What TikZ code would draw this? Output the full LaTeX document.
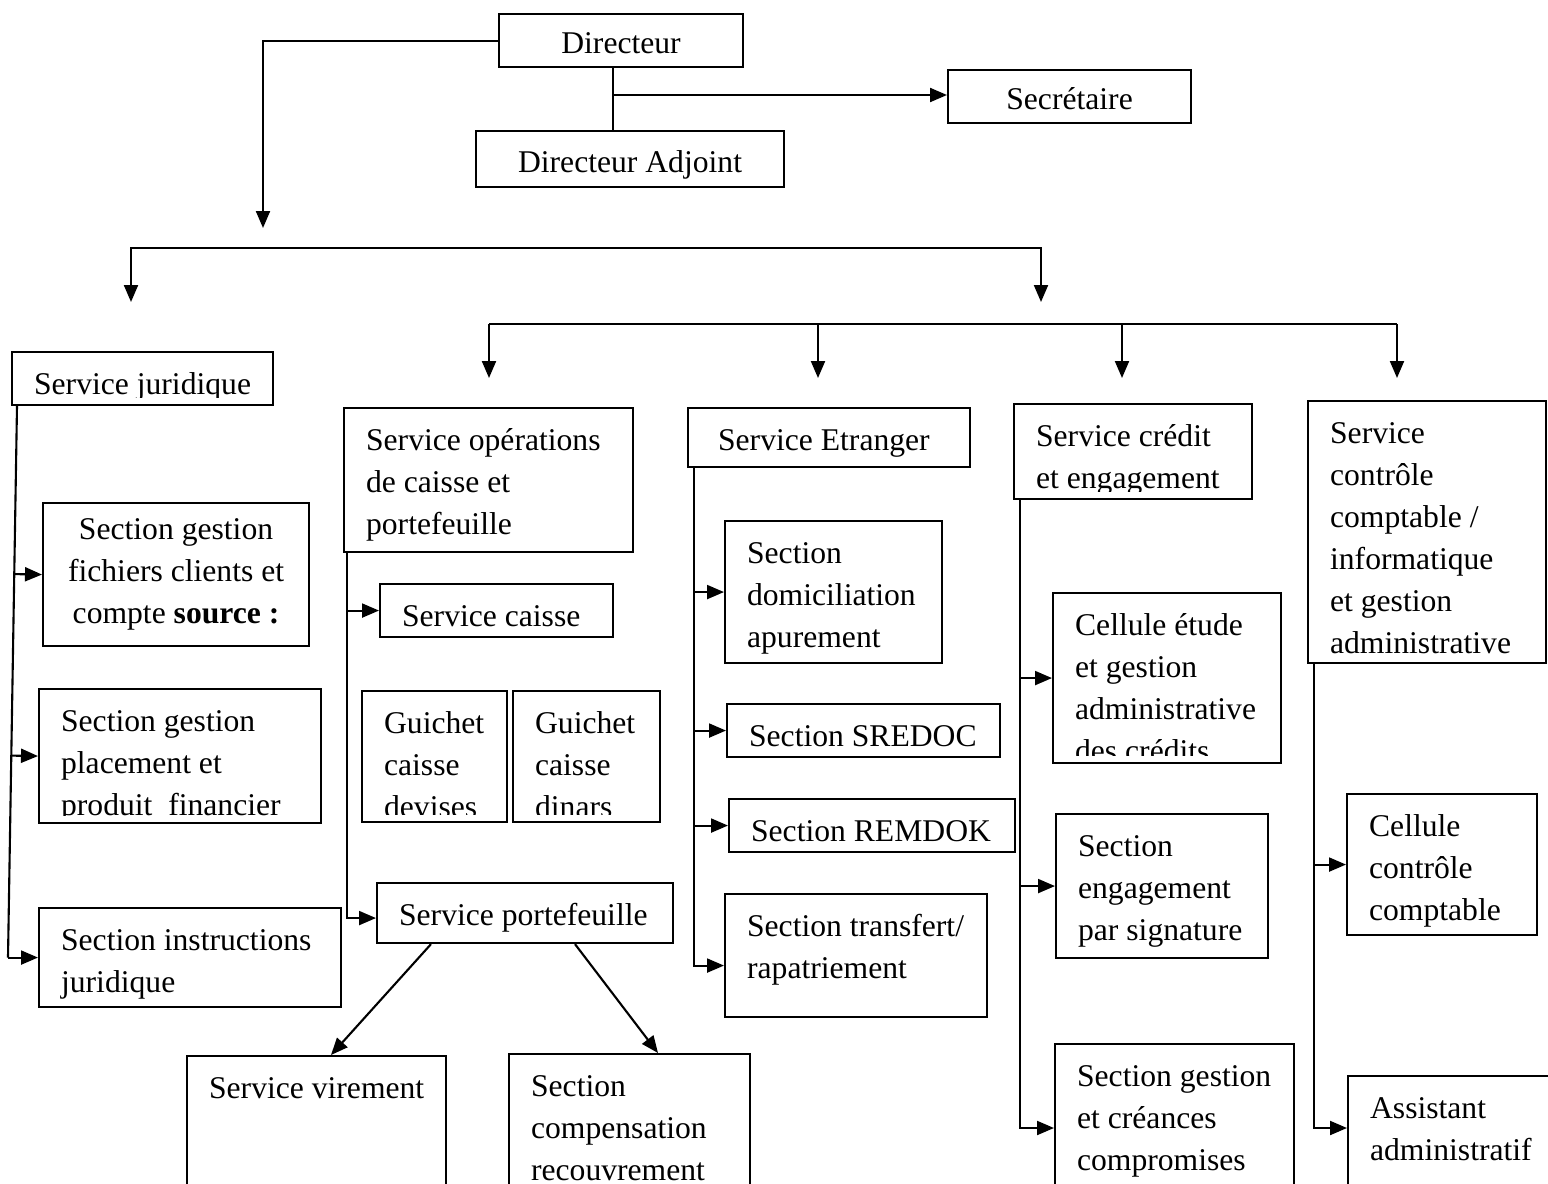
\documentclass[tikz,border=0pt]{standalone}
\usepackage{fontspec}
\setmainfont{Liberation Serif}
\usetikzlibrary{arrows.meta, calc}

\newlength\unitpx
\setlength\unitpx{0.02cm}

\tikzset{
  orgfont/.style={font=\fontsize{18}{24}\selectfont},
  orgbox/.style={draw, line width=1.2pt, rectangle, anchor=north west, inner sep=0pt, orgfont},
  lefttext/.style={path picture={
      \clip (path picture bounding box.north west) rectangle ($(path picture bounding box.south east)+(0,-8)$);
      \node[orgfont, draw=none, minimum width=0pt, minimum height=0pt, anchor=north west, align=left, inner sep=0pt]
        at ($(path picture bounding box.north west)+(21,0)$) {\rule{0pt}{41\unitpx}#1};}},
  link/.style={line width=1.2pt},
  arr/.style={line width=1.2pt, -{Triangle[length=0.34cm, width=0.28cm]}},
  arrs/.style={line width=1.2pt, {Triangle[length=0.34cm, width=0.28cm]}-{Triangle[length=0.34cm, width=0.28cm]}},
}

\begin{document}
\begin{tikzpicture}[x=0.02cm, y=-0.02cm]
\useasboundingbox (0,0) rectangle (1548,1183);

% direction
\node[orgbox, minimum width=244\unitpx, minimum height=53\unitpx, text height=15pt, text depth=0pt] (dir) at (498,13) {Directeur};
\node[orgbox, minimum width=243\unitpx, minimum height=53\unitpx, text height=15pt, text depth=0pt] (sec) at (947,69) {Secrétaire};
\node[orgbox, minimum width=308\unitpx, minimum height=56\unitpx, text height=15pt, text depth=0pt] (adj) at (475,130) {Directeur Adjoint};

\coordinate (dtip) at (263,228);
\coordinate (djn) at (613,95);
\draw[arr] (dir.west) -| (dtip);
\draw[link] (dir.south -| djn) -- (adj.north -| djn);
\draw[arr] (djn) -- (sec.west |- djn);

% bars
\coordinate (jtip) at (131,302);
\coordinate (stip) at (1041,302);
\draw[arrs] (jtip) -- ++(0,-54) -| (stip);

\coordinate (bar) at (0,324);
\foreach \n/\x in {a/489, b/818, c/1122, d/1397}
  \coordinate (tip\n) at (\x,378);
\draw[link] (tipa |- bar) -- (tipd |- bar);
\foreach \n in {a,b,c,d}
  \draw[arr] (tip\n |- bar) -- (tip\n);

% service juridique
\node[orgbox, minimum width=261\unitpx, minimum height=53\unitpx, lefttext={Service juridique}] (jur) at (11,351) {};
\node[orgbox, minimum width=266\unitpx, minimum height=143\unitpx, align=center] (fich) at (42,502) {Section gestion\\fichiers clients et\\compte \textbf{source :}};
\node[orgbox, minimum width=282\unitpx, minimum height=134\unitpx, lefttext={Section gestion\\placement et\\produit~ financier}] (plac) at (38,688) {};
\node[orgbox, minimum width=302\unitpx, minimum height=99\unitpx, lefttext={Section instructions\\juridique}] (instr) at (38,907) {};

% service operations
\node[orgbox, minimum width=289\unitpx, minimum height=144\unitpx, lefttext={Service opérations\\de caisse et\\portefeuille}] (ops) at (343,407) {};
\node[orgbox, minimum width=233\unitpx, minimum height=53\unitpx, lefttext={Service caisse}] (caisse) at (379,583) {};
\node[orgbox, minimum width=145\unitpx, minimum height=131\unitpx, lefttext={Guichet\\caisse\\devises}] (gdev) at (361,690) {};
\node[orgbox, minimum width=147\unitpx, minimum height=131\unitpx, lefttext={Guichet\\caisse\\dinars}] (gdin) at (512,690) {};
\node[orgbox, minimum width=296\unitpx, minimum height=60\unitpx, lefttext={Service portefeuille}] (port) at (376,882) {};
\node[orgbox, minimum width=259\unitpx, minimum height=160\unitpx, lefttext={Service virement}] (vir) at (186,1055) {};
\node[orgbox, minimum width=241\unitpx, minimum height=160\unitpx, lefttext={Section\\compensation\\recouvrement}] (comp) at (508,1053) {};

% service etranger
\node[orgbox, minimum width=282\unitpx, minimum height=59\unitpx, lefttext={\hspace*{8\unitpx}Service Etranger}] (etr) at (687,407) {};
\node[orgbox, minimum width=217\unitpx, minimum height=142\unitpx, lefttext={Section\\domiciliation\\apurement}] (dom) at (724,520) {};
\node[orgbox, minimum width=273\unitpx, minimum height=53\unitpx, lefttext={Section SREDOC}] (sred) at (726,703) {};
\node[orgbox, minimum width=286\unitpx, minimum height=53\unitpx, lefttext={Section REMDOK}] (remd) at (728,798) {};
\node[orgbox, minimum width=262\unitpx, minimum height=123\unitpx, lefttext={Section transfert/\\rapatriement}] (trans) at (724,893) {};

% service credit
\node[orgbox, minimum width=238\unitpx, minimum height=95\unitpx, lefttext={Service crédit\\et engagement}] (cred) at (1013,403) {};
\node[orgbox, minimum width=228\unitpx, minimum height=170\unitpx, lefttext={Cellule étude\\et gestion\\administrative\\des crédits}] (cell) at (1052,592) {};
\node[orgbox, minimum width=212\unitpx, minimum height=144\unitpx, lefttext={Section\\engagement\\par signature}] (engs) at (1055,813) {};
\node[orgbox, minimum width=239\unitpx, minimum height=160\unitpx, lefttext={Section gestion\\et créances\\compromises}] (cre) at (1054,1043) {};

% service controle
\node[orgbox, minimum width=238\unitpx, minimum height=262\unitpx, lefttext={Service\\contrôle\\comptable /\\informatique\\et gestion\\administrative}] (ctrl) at (1307,400) {};
\node[orgbox, minimum width=190\unitpx, minimum height=141\unitpx, lefttext={Cellule\\contrôle\\comptable}] (ccpt) at (1346,793) {};
\node[orgbox, minimum width=220\unitpx, minimum height=160\unitpx, lefttext={Assistant\\administratif}] (asst) at (1347,1075) {};

% liens juridique
\coordinate (jt) at ($(jur.south west)+(6,0)$);
\coordinate (jb) at ($(instr.west)+(-30,0)$);
\draw[link] (jt) -- (jb);
\draw[arr] (jb) -- (instr.west);
\foreach \b in {fich, plac}
  \draw[arr] ($(jt)!(\b.west)!(jb)$) -- (\b.west);

% liens operations
\coordinate (ot) at ($(ops.south west)+(4,0)$);
\draw[arr] (ot) |- ($(port.west)+(0,5)$);
\draw[arr] (ot |- caisse.west) -- (caisse.west);
\draw[arr] ($(port.south west)+(55,0)$) -- ($(vir.north west)+(145,0)$);
\draw[arr] ($(port.south west)+(199,0)$) -- ($(comp.north west)+(150,0)$);

% liens etranger
\coordinate (et) at ($(etr.south west)+(7,0)$);
\draw[arr] (et) |- ($(trans.west)+(0,10)$);
\foreach \b in {dom, sred, remd}
  \draw[arr] (et |- \b.west) -- (\b.west);

% liens credit
\coordinate (ct) at ($(cred.south west)+(7,0)$);
\draw[arr] (ct) |- ($(cre.north west)+(0,85)$);
\foreach \b in {cell, engs}
  \draw[arr] (ct |- \b.west) -- (\b.west);

% liens controle
\coordinate (kt) at ($(ctrl.south west)+(7,0)$);
\draw[arr] (kt) |- ($(asst.north west)+(0,53)$);
\draw[arr] (kt |- ccpt.west) -- (ccpt.west);
\end{tikzpicture}
\end{document}
